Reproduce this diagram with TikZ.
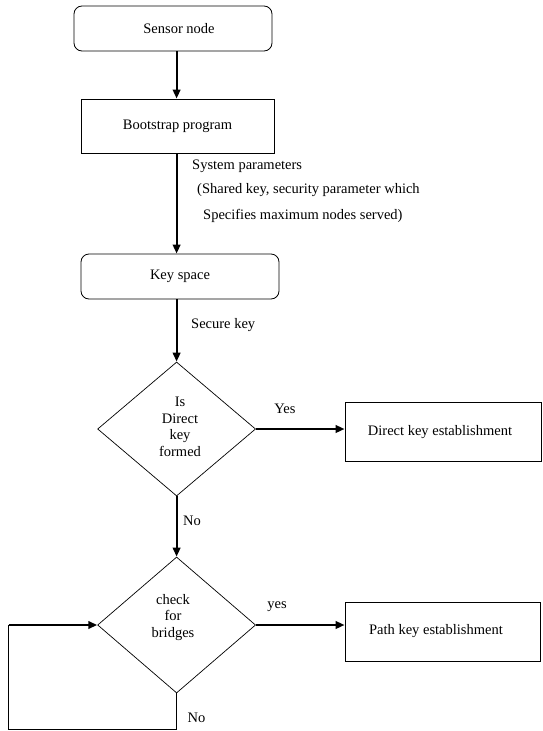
\documentclass[tikz,border=0pt]{standalone}
\usepackage{fontspec}
\setmainfont{Liberation Serif}
\usetikzlibrary{arrows.meta,shapes.geometric}
\begin{document}
\begin{tikzpicture}[x=1pt,y=-1pt,
  every node/.style={font=\fontsize{14.5}{16.6}\selectfont, inner sep=0pt},
  sbox/.style={draw, line width=0.8pt, rectangle},
  rbox/.style={sbox, rounded corners=8pt},
  dia/.style={draw, line width=0.7pt, diamond, inner sep=0pt},
  arr/.style={line width=2.2pt, -{Triangle[length=9pt,width=7.5pt]}},
  thin/.style={line width=0.8pt},
  lbl/.style={anchor=west}
]
\useasboundingbox (0,0) rectangle (542,731);
% boxes
\node[rbox,minimum width=198pt,minimum height=45pt] (sensor) at (173,28.5) {\hspace*{12pt}Sensor node};
\node[sbox,minimum width=193pt,minimum height=54pt] (boot) at (177.5,126) {Bootstrap program};
\node[rbox,minimum width=198pt,minimum height=45pt] (keys) at (180,276.5) {Key space};
\node[dia,minimum width=158pt,minimum height=134pt] (d1) at (176.6,429) {};
\node[align=center] (d1t) at (180,427) {Is\\Direct\\key\\formed};
\node[sbox,minimum width=196pt,minimum height=59.5pt] (direct) at (443,431.75) {Direct key establishment\hspace*{6pt}};
\node[dia,minimum width=158pt,minimum height=136pt] (d2) at (176.6,625) {};
\node[align=center] (d2t) at (173,617.5) {check\\for\\bridges};
\node[sbox,minimum width=195pt,minimum height=59pt] (path) at (442.5,631.5) {Path key establishment\hspace*{13pt}};
% labels
\node[lbl] (l1) at (192,166) {System parameters};
\node[lbl] (l2) at (197,190) {(Shared key, security parameter which};
\node[lbl] (l3) at (203,216) {Specifies maximum nodes served)};
\node[lbl] (l4) at (191,325) {Secure key};
\node (l5) at (285,409) {Yes};
\node[lbl] (l6) at (183,521) {No};
\node (l7) at (277,607) {yes};
\node[lbl] (l8) at (187.5,718) {No};
% connectors
\coordinate (lb) at (8.6,729);
\coordinate (lt) at (8.6,625);
\draw[arr] (sensor.south -| d1.center) -- (boot.north -| d1.center);
\draw[arr] (boot.south -| d1.center) -- (keys.north -| d1.center);
\draw[arr] (keys.south -| d1.center) -- (d1.north);
\draw[arr] (d1.east) -- (d1.east -| direct.west);
\draw[arr] (d1.south) -- (d2.north);
\draw[arr] (d2.east) -- (d2.east -| path.west);
\draw[thin] (d2.south) -- (d2.south |- lb) -- (lb) -- (lt);
\draw[arr] (lt) -- (d2.west);
\end{tikzpicture}
\end{document}
